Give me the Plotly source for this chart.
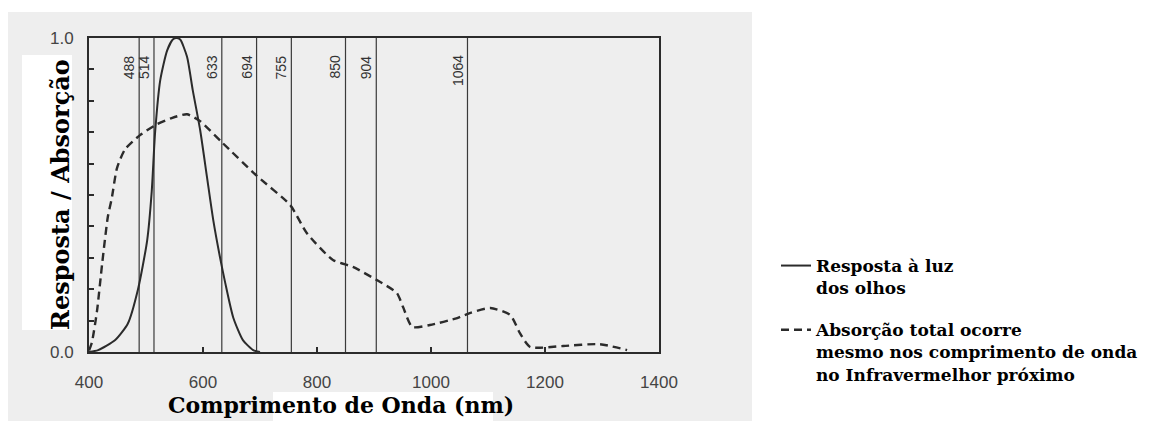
import plotly.graph_objects as go

# ---- data ----
eye_nm = [400, 416, 446, 468, 486, 502, 510, 516, 525, 537, 547, 553, 560, 572, 582, 595, 607, 618, 630, 639, 653, 670, 688, 700]
eye_val = [0.0, 0.006, 0.038, 0.09, 0.20, 0.355, 0.51, 0.70, 0.866, 0.96, 0.995, 1.0, 0.995, 0.94, 0.834, 0.707, 0.557, 0.42, 0.30, 0.22, 0.11, 0.038, 0.006, 0.0]

abs_nm = [400, 405, 414, 423, 433, 440, 449, 463, 489, 519, 545, 572, 595, 633, 695, 753, 782, 828, 863, 905, 940, 951, 967, 998, 1046, 1068, 1104, 1139, 1156, 1174, 1232, 1296, 1344]
abs_val = [0.005, 0.03, 0.13, 0.28, 0.43, 0.49, 0.585, 0.645, 0.69, 0.725, 0.745, 0.757, 0.735, 0.668, 0.56, 0.468, 0.379, 0.293, 0.271, 0.229, 0.188, 0.143, 0.08, 0.086, 0.108, 0.124, 0.14, 0.118, 0.06, 0.016, 0.019, 0.025, 0.006]

laser_nm = [488, 514, 633, 694, 755, 850, 904, 1064]
laser_labels = ["488", "514", "633", "694", "755", "850", "904", "1064"]

x_tick_vals = [400, 600, 800, 1000, 1200, 1400]
x_tick_text = ["400", "600", "800", "1000", "1200", "1400"]
y_tick_vals = [0.0, 0.1, 0.2, 0.3, 0.4, 0.5, 0.6, 0.7, 0.8, 0.9, 1.0]
y_tick_text = ["0.0", "", "", "", "", "", "", "", "", "", "1.0"]

legend_eye = "Resposta à luz<br>dos olhos"
legend_abs = "Absorção total ocorre<br>mesmo nos comprimento de onda<br>no Infravermelhor próximo"
x_title = "Comprimento de Onda (nm)"
y_title = "Resposta / Absorção"

INK = "#2b2b2b"
GRAY = "#eeeeee"

fig = go.Figure()

# vertical laser lines
vx, vy = [], []
for w in laser_nm:
    vx += [w, w, None]
    vy += [0, 1, None]
fig.add_trace(go.Scatter(x=vx, y=vy, mode="lines", line=dict(color="#3a3a3a", width=1.2),
                         showlegend=False, hoverinfo="skip"))

fig.add_trace(go.Scatter(x=eye_nm, y=eye_val, mode="lines", name=legend_eye, legendgroup="a",
                         line=dict(color=INK, width=2, shape="spline", smoothing=0.6)))
fig.add_trace(go.Scatter(x=abs_nm, y=abs_val, mode="lines", name=legend_abs, legendgroup="b",
                         line=dict(color=INK, width=2.4, dash="8px,5px", shape="spline", smoothing=0.6)))

# laser labels
for w, t in zip(laser_nm, laser_labels):
    fig.add_annotation(x=w, y=0.952, xref="x", yref="y", text=t, textangle=-90,
                       xanchor="right", yanchor="top", showarrow=False, xshift=0,
                       font=dict(family="Liberation Sans", size=14, color="#333"))

# background paper (scan) and white patches
shape_common = dict(xref="paper", yref="paper", xsizemode="pixel", ysizemode="pixel",
                    xanchor=0, yanchor=0, layer="below", line=dict(width=0))
fig.add_shape(type="rect", x0=-81, x1=663, y0=-80, y1=340, fillcolor=GRAY, **shape_common)
fig.add_shape(type="rect", x0=-67, x1=-17, y0=22, y1=297, fillcolor="white", **shape_common)
fig.add_shape(type="rect", x0=184, x1=404, y0=-80, y1=-40, fillcolor="white", **shape_common)

fig.add_annotation(text=y_title, xref="paper", yref="paper", x=0, y=0.5, xshift=-29,
                   textangle=-90, showarrow=False, xanchor="center", yanchor="middle",
                   font=dict(family="DejaVu Serif", size=24, color="black", weight="bold"))
fig.add_annotation(text=x_title, xref="paper", yref="paper", x=0, y=0, xshift=252, yshift=-53,
                   showarrow=False, xanchor="center", yanchor="middle",
                   font=dict(family="DejaVu Serif", size=22, color="black", weight="bold"))

fig.update_layout(
    width=1154, height=421,
    margin=dict(l=89, r=495, t=38, b=69, autoexpand=False),
    paper_bgcolor="white", plot_bgcolor="rgba(0,0,0,0)",
    showlegend=True,
    legend=dict(xref="container", yref="container", x=776 / 1154, y=1 - 248 / 421,
                xanchor="left", yanchor="top", valign="top",
                traceorder="grouped", tracegroupgap=17, bgcolor="rgba(0,0,0,0)",
                font=dict(family="DejaVu Serif", size=17, color="black", weight="bold")),
    xaxis=dict(range=[400, 1400], tickvals=x_tick_vals, ticktext=x_tick_text,
               ticks="inside", ticklen=5, tickwidth=1.5, tickcolor=INK,
               showline=True, linewidth=2, linecolor=INK, mirror=True,
               showgrid=False, zeroline=False, ticklabelstandoff=14,
               tickfont=dict(family="Liberation Sans", size=17, color="#444")),
    yaxis=dict(range=[0, 1], tickvals=y_tick_vals, ticktext=y_tick_text,
               ticks="inside", ticklen=5, tickwidth=1.5, tickcolor=INK,
               showline=True, linewidth=2, linecolor=INK, mirror=True,
               showgrid=False, zeroline=False, ticklabelstandoff=10,
               tickfont=dict(family="Liberation Sans", size=17, color="#444")),
)

fig.write_html("out.html")
